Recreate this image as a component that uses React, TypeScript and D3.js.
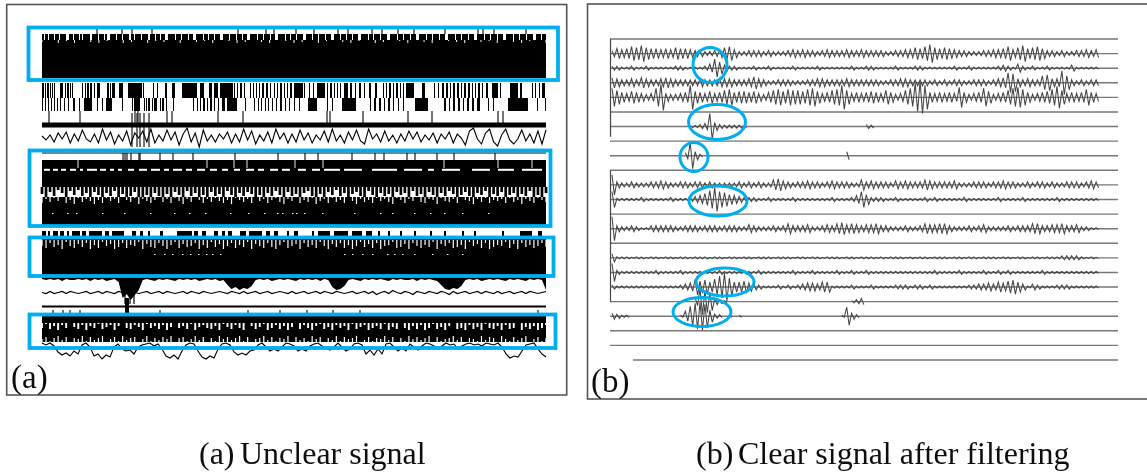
import React from 'react';
import * as d3 from 'd3';

// ---- panel (a) : unfiltered record ----
// bar rows are [start, end] in samples
const slitsRow1 = [[2, 3], [6, 7], [12, 13], [17, 18], [24, 27], [31, 32], [37, 38], [40, 41], [48, 50], [56, 57], [62, 63], [65, 68], [74, 75], [80, 81], [87, 89], [92, 93], [99, 100], [106, 108], [113, 114], [118, 119], [123, 126], [133, 134], [139, 140], [146, 147], [151, 154], [161, 162], [166, 167], [172, 173], [178, 181], [187, 188], [194, 195], [200, 201], [205, 208], [215, 216], [221, 222], [228, 229], [233, 236], [243, 244], [248, 249], [254, 255], [261, 264], [270, 271], [276, 277], [283, 284], [289, 292], [298, 299], [304, 305], [310, 311], [316, 319], [326, 327], [331, 332], [338, 339], [345, 348], [355, 356], [361, 362], [368, 369], [374, 377], [384, 385], [390, 391], [397, 398], [403, 406], [413, 414], [419, 420], [426, 427], [432, 435], [442, 443], [448, 449], [455, 456], [461, 464], [471, 472], [477, 478], [484, 485], [491, 494], [499, 500]];
const specksRow1 = [2, 0, 3, 1, 3, 0, 2, 3, 1, 0, 3, 2, 0, 3, 1, 2, 0, 3, 0, 2, 1, 3, 0, 1, 3, 2, 0, 2, 3, 0, 1, 3, 2, 0, 3, 1, 0, 2, 3, 1, 0, 3, 2, 0, 1, 3, 0, 2, 3, 0, 1, 2, 3, 0, 2, 1, 3, 0, 2, 3, 1, 0, 3];
const spikesRow1 = [55, 80, 90, 110, 196, 224, 232, 254, 272, 296, 306, 330, 340, 356, 372, 403, 436, 441, 452, 484];
const barsRow2 = [[0, 2], [3, 4], [5, 7], [8, 9], [10, 11], [12, 13], [18, 21], [23, 24], [25, 27], [28, 29], [30, 31], [40, 41], [43, 44], [45, 47], [48, 50], [52, 53], [55, 58], [65, 67], [68, 69], [70, 73], [77, 81], [86, 100], [101, 102], [111, 112], [115, 116], [123, 125], [130, 133], [140, 155], [158, 162], [167, 170], [172, 176], [178, 191], [192, 193], [195, 196], [198, 200], [202, 203], [208, 209], [211, 212], [214, 215], [217, 218], [220, 222], [224, 226], [228, 229], [232, 233], [235, 236], [238, 240], [242, 243], [245, 246], [248, 250], [252, 261], [262, 263], [267, 268], [271, 272], [275, 283], [285, 286], [288, 290], [292, 293], [295, 296], [298, 299], [302, 306], [308, 310], [313, 314], [317, 319], [322, 323], [327, 329], [333, 335], [341, 342], [344, 345], [347, 349], [351, 352], [354, 356], [358, 359], [361, 362], [364, 372], [380, 383], [392, 393], [396, 397], [400, 402], [404, 406], [408, 409], [411, 413], [415, 417], [419, 420], [422, 424], [426, 428], [430, 431], [433, 434], [436, 438], [440, 441], [444, 446], [450, 456], [458, 459], [468, 476], [478, 480], [490, 491], [493, 494], [497, 498], [500, 503]];
const barsRow3 = [[0, 1], [3, 4], [6, 7], [9, 10], [12, 13], [15, 16], [18, 19], [22, 23], [26, 27], [31, 33], [37, 38], [42, 50], [55, 56], [60, 61], [64, 70], [80, 81], [90, 91], [92, 98], [102, 103], [104, 105], [106, 108], [110, 111], [112, 115], [118, 119], [120, 122], [124, 125], [131, 132], [151, 152], [155, 156], [158, 159], [161, 163], [165, 166], [168, 170], [172, 173], [176, 177], [180, 183], [185, 195], [203, 204], [212, 213], [216, 217], [219, 220], [223, 224], [226, 227], [230, 231], [234, 235], [238, 240], [243, 244], [247, 248], [252, 253], [257, 258], [266, 275], [285, 286], [290, 291], [300, 314], [328, 329], [332, 334], [337, 339], [342, 343], [346, 348], [351, 352], [356, 357], [361, 362], [373, 386], [402, 404], [407, 408], [411, 413], [416, 418], [421, 422], [425, 427], [430, 432], [435, 438], [446, 447], [451, 452], [466, 486], [495, 496], [503, 504]];
const barsRow7 = [[0, 4], [6, 8], [11, 16], [18, 22], [25, 27], [30, 38], [40, 44], [47, 60], [63, 67], [70, 82], [90, 94], [98, 101], [106, 108], [118, 121], [135, 150], [152, 156], [160, 164], [172, 176], [180, 183], [186, 190], [198, 204], [207, 220], [224, 228], [232, 236], [245, 247], [252, 256], [270, 272], [276, 288], [292, 306], [310, 320], [324, 330], [336, 338], [346, 348], [358, 360], [372, 374], [388, 390], [402, 404], [420, 422], [432, 434], [460, 462], [478, 490], [496, 500]];
const ticksRow4 = [7, 38, 93, 96, 125, 130, 176, 201, 285, 288, 321, 366, 390, 456, 461];
const burstRow4 = [90, 95, 98, 102, 107];
const ticksRow5 = [81, 83, 85, 89, 97, 98, 118, 131, 151, 193, 236, 263, 276, 310, 333, 342, 365, 373, 395, 412, 453];
const slitsRow5 = [36, 165, 192, 205, 253, 281, 402, 456, 490];
const dashesRow5 = [[2, 8], [11, 16], [19, 24], [28, 34], [38, 41], [45, 55], [58, 64], [68, 72], [76, 80], [86, 92], [97, 105], [109, 118], [122, 127], [131, 140], [144, 150], [155, 163], [168, 175], [180, 186], [192, 198], [204, 212], [216, 222], [228, 236], [240, 248], [256, 264], [270, 278], [282, 298], [302, 320], [330, 355], [362, 380], [386, 392], [400, 418], [430, 448], [456, 472], [480, 500]];
const specksRow6 = [10, 25, 34, 60, 82, 108, 132, 147, 163, 188, 206, 222, 235, 240, 250, 254, 262, 280, 312, 338, 350, 372, 388, 402, 420, 446];
const specksRow7 = [112, 122, 130, 140, 148, 156, 164, 170, 178, 302, 310, 320, 330, 345, 352, 360, 372, 390, 405, 420];
const ticksRow9 = [11, 21, 28, 38, 85, 118, 206, 238, 265, 291, 318, 496];

// ragged edges, 4 samples apart, height of each tooth
const scruffRow5 = [7, 10, 5, 9, 3, 6, 10, 4, 8, 3, 9, 6, 11, 5, 8, 10, 6, 9, 4, 11, 7, 12, 9, 5, 10, 13, 8, 11, 6, 9, 12, 7, 10, 5, 8, 11, 4, 9, 6, 10, 8, 12, 5, 9, 7, 10, 4, 8, 11, 6, 9, 5, 7, 10, 8, 12, 6, 9, 4, 8, 11, 5, 9, 7, 10, 6, 4, 9, 12, 7, 10, 5, 8, 3, 9, 6, 11, 7, 5, 9, 12, 4, 8, 10, 6, 9, 7, 11, 5, 8, 6, 10, 4, 9, 7, 11, 5, 8, 12, 6, 9, 4, 7, 10, 8, 5, 9, 11, 6, 8, 4, 10, 7, 9, 5, 12, 8, 6, 10, 7, 9, 4, 11, 8, 10, 6];
const notchRow6 = [6, 2, 5, 1, 4, 0, 6, 3, 7, 1, 5, 2, 4, 7, 3, 6, 1, 4, 2, 6, 0, 3, 5, 1, 7, 2, 4, 6, 3, 0, 5, 2, 6, 1, 4, 7, 2, 5, 0, 3, 6, 2, 5, 1, 4, 6, 3, 7, 1, 3, 5, 2, 6, 0, 4, 2, 6, 3, 1, 5, 7, 2, 4, 0, 6, 3, 5, 1, 7, 4, 2, 6, 1, 5, 3, 6, 0, 4, 7, 2, 5, 3, 6, 1, 4, 2, 5, 7, 1, 3, 6, 2, 4, 0, 5, 6, 2, 3, 7, 1, 4, 5, 2, 6, 0, 3, 4, 7, 2, 5, 1, 6, 3, 4, 2, 6, 1, 5, 3, 7, 2, 4, 6, 1, 3, 5];
const notchRow7 = [6, 8, 3, 7, 5, 9, 2, 6, 8, 4, 7, 3, 9, 5, 8, 2, 6, 4, 9, 7, 3, 8, 5, 6, 2, 9, 4, 7, 8, 3, 6, 9, 5, 2, 8, 4, 7, 6, 3, 9, 5, 8, 2, 7, 4, 9, 6, 3, 8, 5, 7, 2, 9, 4, 6, 8, 3, 7, 9, 5, 2, 8, 6, 4, 9, 3, 7, 5, 8, 2, 6, 9, 4, 7, 3, 8, 5, 9, 6, 2, 7, 4, 8, 3, 9, 6, 5, 2, 8, 7, 4, 9, 3, 6, 8, 5, 7, 2, 9, 4, 6, 3, 8, 7, 5, 9, 2, 6, 4, 8, 3, 9, 7, 5, 6, 2, 8, 4, 9, 3, 7, 5, 8, 6, 3, 7];
const dipsRow7 = [3, 4, 3, 4, 3, 5, 3, 4, 4, 3, 4, 3, 5, 3, 4, 3, 5, 4, 3, 6, 22, 18, 24, 19, 14, 4, 3, 4, 5, 3, 4, 3, 4, 5, 3, 4, 3, 4, 3, 5, 4, 3, 4, 3, 5, 4, 9, 13, 11, 14, 12, 13, 10, 4, 3, 4, 3, 5, 4, 3, 4, 3, 4, 5, 3, 4, 3, 4, 3, 5, 3, 4, 11, 14, 13, 10, 4, 3, 4, 5, 3, 4, 3, 4, 3, 4, 5, 3, 4, 3, 4, 4, 3, 5, 3, 4, 3, 4, 5, 9, 13, 14, 12, 13, 10, 4, 3, 4, 3, 5, 4, 3, 4, 3, 4, 5, 3, 4, 3, 4, 5, 3, 4, 3, 4, 14];
const holesRow9 = [5, 1, 6, 3, 7, 2, 5, 0, 4, 6, 2, 7, 3, 5, 1, 6, 4, 2, 7, 3, 0, 5, 6, 2, 4, 7, 1, 5, 3, 6, 2, 7, 4, 0, 5, 3, 6, 1, 7, 4, 2, 5, 6, 3, 7, 1, 4, 6, 2, 5, 7, 0, 3, 6, 4, 1, 7, 5, 2, 6, 3, 7, 4, 0, 6, 2, 5, 7, 3, 1, 6, 4, 7, 2, 5, 3, 7, 1, 6, 4, 2, 7, 5, 3, 6, 1, 7, 4, 6, 0, 5, 7, 3, 6, 2, 7, 5, 1, 6, 4, 7, 3, 0, 6, 5, 7, 2, 6, 4, 7, 1, 5, 6, 3, 7, 2, 6, 5, 0, 7, 4, 6, 3, 7, 5, 2];
const notchRow9 = [4, 6, 2, 5, 7, 3, 6, 1, 5, 4, 7, 2, 6, 3, 5, 7, 1, 4, 6, 2, 7, 3, 5, 6, 1, 4, 7, 2, 5, 3, 6, 4, 7, 1, 5, 6, 2, 4, 7, 3, 6, 1, 5, 2, 7, 4, 6, 3, 5, 7, 2, 6, 1, 4, 5, 7, 3, 6, 2, 5, 4, 7, 1, 6, 3, 5, 2, 7, 4, 6, 1, 5, 3, 7, 2, 6, 4, 5, 7, 1, 3, 6, 2, 5, 4, 7, 3, 6, 1, 5, 2, 7, 4, 6, 3, 5, 7, 1, 6, 2, 4, 5, 7, 3, 6, 1, 5, 4, 2, 7, 3, 6, 5, 1, 7, 4, 2, 6, 3, 5, 7, 1, 4, 6, 2, 5];

// slow drift traces
const driftRow4 = [-1, 3, -2, 5, -4, 2, -5, 6, -3, 4, -7, 2, 5, -3, 6, -8, 3, -5, 7, -2, 4, -6, 8, -4, 1, -6, 5, -8, 6, -2, 4, -7, 3, -5, 8, -3, -9, 5, -4, 10, -7, 4, -2, 5, -3, 2, -5, 6, -3, 5, -8, 3, -6, 7, -2, 4, -5, 6, -8, 2, -4, 6, -3, 5, -7, 3, -4, 6, -2, 3, -6, 5, -8, 4, -2, 6, -5, 3, -7, 4, 7, -8, 2, -3, 5, -6, 4, -2, 6, -3, 4, -6, 2, -5, 5, -2, 3, -4, 6, -3, 2, -5, 6, -3, 1, 8, -6, -9, 2, 7, -4, -8, 5, 9, -2, -8, 3, 7, 2, -7, 4, -3, 6, -6, 7, -7];
const driftRow8 = [0, 1, -1, 1, 0, -1, 1, -1, 0, 1, 0, -1, 1, 0, -1, 1, -1, 0, 1, -1, 0, 1, -1, 0, 1, 0, -1, 1, 0, -1, 1, -1, 0, 1, 0, -1, 1, -1, 0, 1, -1, 0, 1, 0, -1, 0, 1, -1, 0, 1, -1, 1, 0, -1, 1, 0, -1, 1, 0, -1, 0, 1, -1, 1, 0, -1, 1, 0, -1, 1, -1, 0, 1, -1, 0, 1, 0, -1, 1, 0, -1, 1, -1, 2, 0, -1, 1, -2, 0, 1, -1, 0, 2, -1, 0, 1, -1, 0, 1, -1, 0, 2, -1, 1, 0, -1, 1, 0, -1, 1, -1, 0, 1, -1, 1, 0, -1, 1, 0, -1, 1, -1, 0, 1, 0, -1];
const scallopRow9 = [2, 4, 2, 5, 11, 14, 12, 15, 10, 13, 4, 2, 6, 15, 13, 18, 14, 16, 6, 3, 8, 10, 9, 13, 6, 4, 3, 2, 5, 3, 8, 15, 17, 14, 18, 10, 4, 2, 3, 10, 16, 18, 15, 17, 8, 3, 2, 4, 11, 14, 12, 14, 10, 9, 4, 2, 6, 10, 8, 10, 6, 2, 3, 5, 10, 8, 10, 5, 3, 2, 5, 7, 9, 6, 2, 6, 10, 8, 3, 2, 4, 13, 9, 14, 8, 13, 3, 2, 6, 10, 7, 10, 3, 6, 9, 5, 2, 3, 5, 8, 5, 2, 4, 3, 8, 5, 3, 2, 4, 3, 5, 2, 3, 4, 2, 6, 13, 17, 15, 16, 10, 4, 3, 2, 8, 13, 16];

// ---- panel (b) : filtered record, envelope of each channel ----
const channel1 = [3, 5, 4, 5, 7, 6, 8, 6, 5, 5, 4, 5, 4, 6, 5, 5, 4, 3, 3, 2, 2, 3, 4, 6, 7, 4, 2, 2, 3, 3, 3, 2, 3, 2, 2, 2, 3, 4, 3, 4, 3, 3, 2, 3, 4, 3, 3, 3, 4, 3, 3, 4, 3, 3, 3, 3, 2, 2, 3, 3, 4, 4, 6, 5, 7, 9, 6, 5, 6, 5, 4, 3, 3, 2, 2, 2, 3, 3, 4, 4, 5, 7, 4, 6, 8, 5, 6, 7, 5, 3, 3, 2, 3, 2, 2, 3, 3, 4, 3, 4];
const channel2 = [2, 2, 1, 1, 2, 1, 1, 2, 1, 1, 1, 1, 1, 2, 2, 1, 1, 1, 1, 2, 4, 9, 6, 3, 2, 2, 1, 1, 1, 2, 1, 1, 2, 1, 1, 1, 1, 2, 1, 1, 1, 1, 2, 1, 1, 1, 1, 1, 1, 2, 1, 1, 2, 2, 1, 1, 1, 1, 2, 1, 1, 1, 2, 2, 1, 1, 1, 1, 1, 1, 2, 1, 1, 2, 1, 1, 1, 1, 1, 2, 3, 2, 1, 4, 2, 1, 2, 1, 1, 2, 1, 1, 1, 1, 3, 1, 1, 1, 1, 1];
const channel3 = [5, 4, 3, 3, 4, 3, 5, 4, 3, 3, 4, 5, 4, 3, 3, 3, 3, 3, 4, 3, 3, 3, 4, 4, 4, 3, 3, 3, 4, 6, 4, 3, 2, 2, 3, 3, 3, 2, 2, 2, 3, 3, 4, 4, 3, 3, 3, 3, 4, 3, 3, 3, 3, 3, 3, 2, 2, 3, 3, 4, 4, 3, 3, 3, 3, 2, 3, 2, 3, 2, 3, 3, 2, 2, 3, 3, 3, 2, 3, 4, 5, 10, 9, 4, 3, 4, 3, 3, 7, 8, 4, 4, 12, 7, 3, 2, 3, 2, 3, 3];
const channel4 = [9, 7, 5, 4, 6, 5, 4, 3, 4, 9, 13, 4, 3, 3, 4, 5, 12, 6, 5, 4, 6, 4, 5, 7, 8, 5, 6, 6, 5, 6, 4, 3, 5, 7, 8, 6, 8, 7, 7, 6, 8, 9, 6, 4, 5, 7, 8, 12, 7, 4, 5, 4, 5, 6, 5, 4, 7, 5, 3, 4, 7, 9, 14, 16, 12, 5, 4, 5, 4, 5, 4, 10, 5, 3, 4, 5, 9, 6, 3, 4, 5, 7, 9, 10, 8, 5, 3, 4, 5, 6, 8, 11, 7, 4, 5, 4, 5, 8, 5, 4];
const channel10 = [10, 3, 2, 2, 3, 2, 2, 2, 3, 3, 4, 3, 2, 2, 3, 3, 2, 3, 3, 2, 3, 2, 2, 2, 2, 2, 3, 2, 3, 2, 3, 2, 2, 5, 6, 4, 3, 2, 3, 3, 4, 3, 3, 2, 3, 4, 3, 3, 3, 2, 2, 5, 3, 4, 3, 3, 3, 2, 4, 3, 4, 3, 3, 3, 5, 4, 3, 3, 3, 3, 4, 2, 2, 2, 3, 3, 3, 2, 3, 3, 4, 3, 3, 2, 2, 3, 2, 3, 3, 2, 3, 2, 2, 3, 3, 3, 2, 3, 4, 3];
const channel11 = [8, 1, 1, 1, 1, 1, 2, 1, 1, 1, 1, 1, 2, 1, 1, 1, 2, 3, 4, 6, 9, 12, 8, 7, 5, 4, 3, 2, 2, 2, 1, 1, 2, 1, 1, 1, 1, 2, 1, 1, 1, 1, 1, 1, 1, 2, 1, 1, 1, 2, 4, 8, 5, 2, 2, 2, 1, 1, 2, 1, 1, 1, 1, 1, 2, 1, 2, 1, 1, 1, 1, 1, 2, 1, 1, 1, 1, 1, 1, 2, 1, 1, 1, 1, 2, 1, 1, 1, 1, 1, 1, 2, 1, 1, 1, 1, 1, 1, 1, 1];
const channel13 = [12, 3, 2, 2, 3, 2, 1, 1, 3, 3, 3, 3, 3, 2, 2, 3, 3, 3, 2, 3, 3, 3, 2, 3, 3, 3, 2, 2, 4, 3, 2, 2, 2, 3, 2, 3, 5, 3, 3, 3, 4, 2, 2, 3, 4, 3, 5, 6, 4, 5, 4, 3, 4, 4, 5, 3, 3, 2, 2, 2, 3, 2, 2, 3, 5, 4, 4, 5, 5, 3, 2, 2, 2, 3, 2, 3, 4, 2, 2, 2, 2, 3, 2, 3, 3, 3, 5, 5, 3, 3, 4, 4, 5, 3, 3, 4, 2, 2, 1, 1];
const channel15 = [4, 1, 1, 1, 0.5, 1, 1, 0.5, 1, 1, 0.5, 1, 1, 0.5, 1, 1, 0.5, 1, 1, 1, 0.5, 1, 1, 0.5, 1, 1, 0.5, 1, 1, 0.5, 1, 1, 1, 0.5, 1, 1, 1, 0.5, 1, 1, 0.5, 1, 1, 0.5, 1, 1, 1, 0.5, 1, 1, 0.5, 1, 1, 1, 0.5, 1, 0.5, 1, 1, 1, 0.5, 1, 0.5, 1, 1, 0.5, 1, 1, 1, 0.5, 1, 1, 0.5, 1, 1, 0.5, 1, 1, 1, 0.5, 1, 1, 0.5, 1, 1, 0.5, 1, 1, 0.5, 1, 1, 1, 2, 2, 2, 2, 1, 0.5, 1, 0.5];
const channel16 = [9, 2, 1, 1, 1, 1, 1, 1, 1, 2, 1, 1, 1, 1, 2, 1, 1, 1, 1, 1, 1, 1, 2, 1, 1, 1, 1, 2, 1, 1, 2, 1, 1, 1, 1, 1, 1, 2, 1, 1, 1, 2, 1, 1, 1, 1, 2, 1, 1, 2, 1, 1, 2, 1, 1, 1, 1, 1, 1, 1, 1, 1, 1, 1, 1, 1, 2, 1, 1, 1, 1, 2, 1, 1, 1, 1, 2, 1, 1, 2, 1, 2, 1, 1, 1, 1, 1, 1, 2, 1, 1, 1, 1, 1, 1, 1, 1, 1, 1, 1];
const channel17 = [2, 1, 1, 1, 1, 1, 1, 1, 1, 1, 1, 1, 1, 1, 2, 3, 4, 8, 6, 7, 5, 8, 11, 14, 9, 5, 5, 6, 4, 3, 2, 1, 1, 1, 2, 1, 2, 1, 2, 3, 4, 4, 3, 5, 5, 1, 1, 1, 1, 2, 1, 1, 1, 2, 1, 1, 1, 1, 2, 2, 2, 1, 2, 2, 1, 2, 1, 1, 1, 1, 1, 1, 1, 2, 2, 3, 3, 4, 3, 5, 4, 6, 7, 5, 3, 1, 3, 2, 1, 1, 1, 2, 2, 2, 1, 1, 1, 1, 1, 1];
// quiet channels : only the bursts
const channel6Cells = [16, 17, 18, 19, 20, 21, 22, 23, 24, 25, 26, 27, 52, 53];
const channel6Amps = [1, 1, 2, 3, 13, 4, 2, 1.5, 1.5, 1.5, 1.5, 1, 2, 1.5];
const channel8Cells = [15, 16, 17, 18, 48];
const channel8Amps = [3, 13, 4, 1.5, 4];
const channel18Cells = [17, 18, 19, 20, 21, 22, 23, 49, 50, 51];
const channel18Amps = [4, 13, 11, 9, 3, 2, 1, 1, 2, 3];
const channel19Cells = [0, 1, 2, 3, 14, 15, 16, 17, 18, 19, 20, 21, 22, 24, 26, 47, 48, 49, 50];
const channel19Amps = [3, 2, 1, 1, 1, 5, 10, 13, 14, 12, 6, 2, 1.5, 1, 1, 1, 9, 3, 1.5];
// vertical stems on the left, in channels
const stems = [[0, 5], [5, 6.7], [9, 18]];

const captionA = ['(a)', 'Unclear signal'];
const captionB = ['(b)', 'Clear signal after filtering'];

const BLUE = '#00aeef';
const SERIF = '"Liberation Serif", serif';

const tA = d3.scaleLinear().domain([0, 504]).range([42, 546]);
const rowB = d3.scaleLinear().domain([0, 22]).range([39, 360]);
const cellB = d3.scaleLinear().domain([0, 100]).range([612, 1101]);

const bars = (list: number[][], y0: number, y1: number, fill = '#000') =>
  list.map((d, i) => (
    <rect key={i} x={tA(d[0])} y={y0} width={Math.max(tA(d[1]) - tA(d[0]), 0.8)} height={y1 - y0} fill={fill} />
  ));

const sticks = (list: number[], y0: number, y1: number, stroke = '#000', w = 1.1) =>
  list.map((t, i) => <line key={i} x1={tA(t)} x2={tA(t)} y1={y0} y2={y1} stroke={stroke} strokeWidth={w} />);

// solid toothed edge hanging from (dir 1) a level
const edge = (amps: number[], y: number, dir: number, fill = '#000') => {
  const x = d3.scaleLinear().domain([0, amps.length - 1]).range([42, 546]);
  const a = d3.area<number>().x((_, i) => x(i)).y0(y).y1((d) => y + dir * d);
  return <path d={a(amps) ?? ''} fill={fill} />;
};

// same, but thin separate teeth
const teeth = (amps: number[], y: number, dir: number, stroke: string, w: number) => {
  const x = d3.scaleLinear().domain([0, amps.length - 1]).range([42, 546]);
  return amps.map((d, i) => (
    <line key={i} x1={x(i)} x2={x(i)} y1={y} y2={y + dir * d} stroke={stroke} strokeWidth={w} />
  ));
};

const drift = (vals: number[], y: number, w = 1.1) => {
  const x = d3.scaleLinear().domain([0, vals.length - 1]).range([42, 546]);
  const l = d3.line<number>().x((_, i) => x(i)).y((d) => y + d);
  return <path d={l(vals) ?? ''} fill="none" stroke="#000" strokeWidth={w} />;
};

// one up-down cycle for each envelope cell
const wave = (cells: number[], amps: number[], y: number) => {
  const half = (cellB(1) - cellB(0)) / 2;
  const pts: [number, number][] = [];
  cells.forEach((c, i) => {
    pts.push([cellB(c), y - amps[i]]);
    pts.push([cellB(c) + half, y + amps[i]]);
  });
  const d = d3.line()(pts) ?? '';
  return <path d={d} fill="none" stroke="#444" strokeWidth={1.05} />;
};
const dense = (amps: number[], ch: number) => wave(d3.range(amps.length), amps, rowB(ch));
const burst = (cells: number[], amps: number[], ch: number) => {
  // split into runs of neighbouring cells
  const runs: number[][] = [];
  cells.forEach((c, i) => {
    if (i > 0 && c === cells[i - 1] + 1) runs[runs.length - 1].push(i);
    else runs.push([i]);
  });
  return runs.map((r, k) => (
    <g key={k}>{wave(r.map((i) => cells[i]), r.map((i) => amps[i]), rowB(ch))}</g>
  ));
};

export default function App() {
  return (
    <svg width={1147} height={473} style={{ position: 'absolute', left: 0, top: 0 }}>
      <defs>
        <filter id="soft" x="-2%" y="-2%" width="104%" height="104%">
          <feGaussianBlur stdDeviation={0.5} />
        </filter>
      </defs>
      <rect width={1147} height={473} fill="#fff" />
      <g filter="url(#soft)">
        {/* panel a */}
        <rect x={6.7} y={4.5} width={560} height={390.5} fill="none" stroke="#555" strokeWidth={1.6} />
        <rect x={tA(0)} y={34} width={504} height={44} fill="#000" />
        {bars(slitsRow1, 34, 40, '#fff')}
        {teeth(specksRow1, 40, 1, '#fff', 1)}
        {sticks(spikesRow1, 29, 34)}
        {bars(barsRow2, 83, 98)}
        {bars(barsRow3, 98, 111)}
        {sticks(ticksRow4, 111, 123)}
        <rect x={tA(0)} y={122.5} width={504} height={5} fill="#000" />
        {sticks(burstRow4, 113, 147)}
        {drift(driftRow4, 137)}

        <line x1={tA(0)} x2={tA(504)} y1={153} y2={153} stroke="#000" strokeWidth={1} />
        {sticks(ticksRow5, 153, 160)}
        <rect x={tA(0)} y={160} width={504} height={27} fill="#000" />
        {sticks(slitsRow5, 160, 168, '#fff', 0.9)}
        {bars(dashesRow5, 168.8, 170.8, '#fff')}
        {teeth(scruffRow5, 187, 1, '#000', 2.7)}
        <rect x={tA(0)} y={197} width={504} height={29} fill="#000" />
        {teeth(notchRow6, 197, 1, '#fff', 1.2)}
        {bars(specksRow6.map((t) => [t, t + 1.5]), 213, 214, '#fff')}

        {bars(barsRow7, 231, 237)}
        <rect x={tA(0)} y={237} width={504} height={39} fill="#000" />
        {teeth(notchRow7, 240, 1, '#fff', 1.2)}
        {bars(specksRow7.map((t) => [t, t + 1.5]), 254, 255, '#fff')}
        {edge(dipsRow7, 276, 1)}

        {drift(driftRow8, 292.5, 1.2)}
        {sticks([83, 88, 92], 280, 304, '#000', 1.2)}
        <line x1={tA(0)} x2={tA(504)} y1={306.5} y2={306.5} stroke="#000" strokeWidth={1.8} />
        {sticks([84, 86], 298, 313, '#000', 2)}
        {sticks(ticksRow9, 310, 316)}
        <rect x={tA(0)} y={316} width={504} height={26} fill="#000" />
        {teeth(holesRow9, 323, 1, '#fff', 1.9)}
        {teeth(notchRow9, 343, -1, '#fff', 1.2)}
        {drift(scallopRow9, 341)}

        <rect x={28.5} y={27.5} width={529.5} height={52.5} fill="none" stroke={BLUE} strokeWidth={3.8} />
        <rect x={29.5} y={150.5} width={521} height={75.5} fill="none" stroke={BLUE} strokeWidth={3.8} />
        <rect x={29.5} y={237.5} width={524} height={38.5} fill="none" stroke={BLUE} strokeWidth={3.8} />
        <rect x={29.5} y={314.5} width={526} height={33.5} fill="none" stroke={BLUE} strokeWidth={3.8} />

        <text x={11} y={388} fontFamily={SERIF} fontSize={33} fill="#111">{captionA[0]}</text>

        {/* panel b */}
        <rect x={587.5} y={4} width={570} height={395} fill="none" stroke="#555" strokeWidth={1.6} />
        {d3.range(23).map((ch) => (
          <line key={ch} x1={ch === 22 ? 633 : 610} x2={1118} y1={rowB(ch)} y2={rowB(ch)} stroke="#777" strokeWidth={1.4} />
        ))}
        {stems.map((s, i) => (
          <line key={i} x1={610.5} x2={610.5} y1={rowB(s[0])} y2={rowB(s[1])} stroke="#444" strokeWidth={1.2} />
        ))}
        {dense(channel1, 1)}
        {dense(channel2, 2)}
        {dense(channel3, 3)}
        {dense(channel4, 4)}
        {burst(channel6Cells, channel6Amps, 6)}
        {burst(channel8Cells, channel8Amps, 8)}
        {dense(channel10, 10)}
        {dense(channel11, 11)}
        {dense(channel13, 13)}
        {dense(channel15, 15)}
        {dense(channel16, 16)}
        {dense(channel17, 17)}
        {burst(channel18Cells, channel18Amps, 18)}
        {burst(channel19Cells, channel19Amps, 19)}

        <ellipse cx={710} cy={65} rx={17} ry={17.5} fill="none" stroke={BLUE} strokeWidth={3} />
        <ellipse cx={717} cy={122} rx={28.5} ry={17.5} fill="none" stroke={BLUE} strokeWidth={3} />
        <ellipse cx={694} cy={157} rx={14} ry={14.5} fill="none" stroke={BLUE} strokeWidth={3} />
        <ellipse cx={718} cy={201} rx={29} ry={15} fill="none" stroke={BLUE} strokeWidth={3} />
        <ellipse cx={725} cy={282} rx={29} ry={14} fill="none" stroke={BLUE} strokeWidth={3} />
        <ellipse cx={702} cy={312} rx={29} ry={14.5} fill="none" stroke={BLUE} strokeWidth={3} />

        <text x={591} y={392} fontFamily={SERIF} fontSize={33} fill="#111">{captionB[0]}</text>

        {/* captions */}
        <text x={199} y={464} fontFamily={SERIF} fontSize={32} fill="#111">{captionA[0]}</text>
        <text x={240} y={464} fontFamily={SERIF} fontSize={32} fill="#111">{captionA[1]}</text>
        <text x={696} y={464} fontFamily={SERIF} fontSize={32} fill="#111">{captionB[0]}</text>
        <text x={738} y={464} fontFamily={SERIF} fontSize={32} fill="#111">{captionB[1]}</text>
      </g>
    </svg>
  );
}
